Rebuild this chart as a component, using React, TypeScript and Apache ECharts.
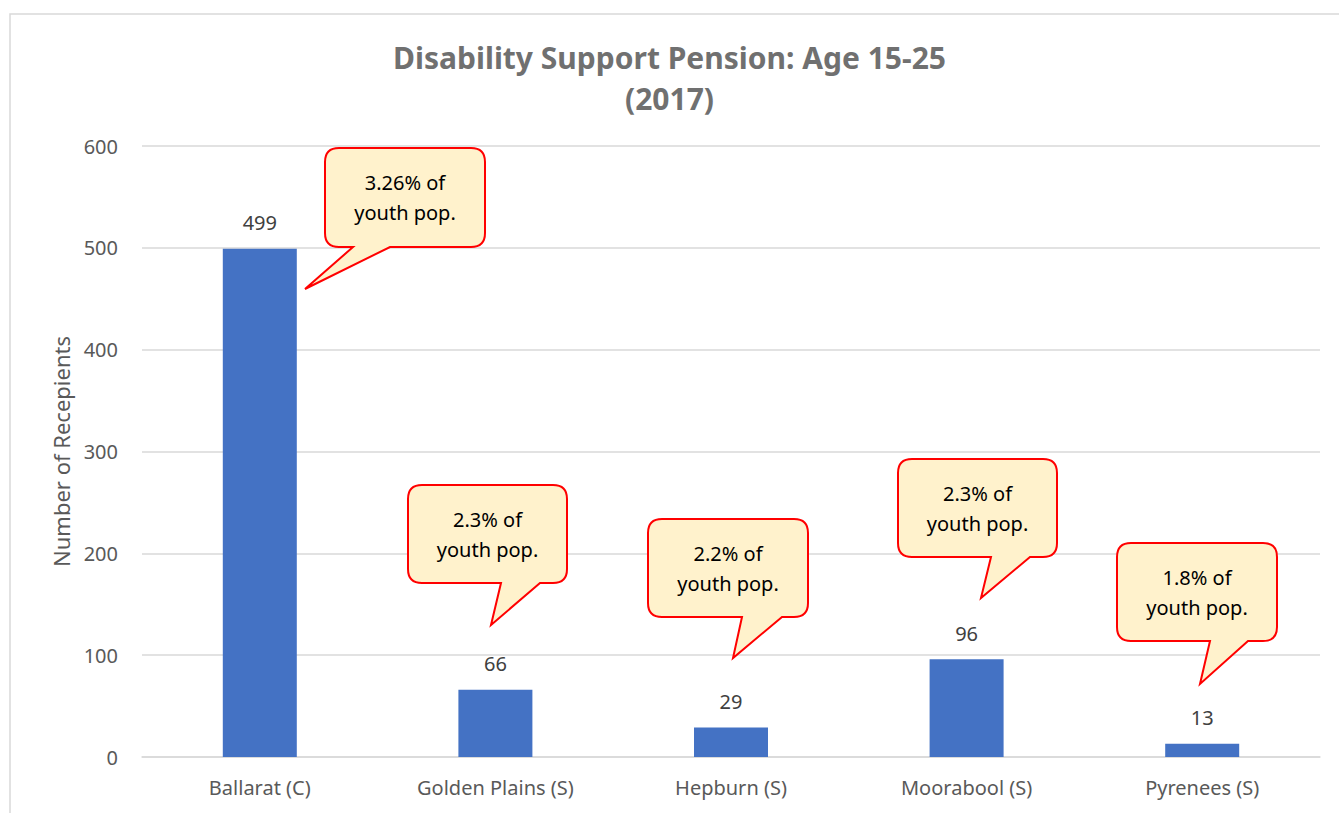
import React, { useEffect, useRef } from "react";
import * as echarts from "echarts";

const categories = ["Ballarat (C)", "Golden Plains (S)", "Hepburn (S)", "Moorabool (S)", "Pyrenees (S)"];
const recipients = [499, 66, 29, 96, 13];
const yTicks = [0, 100, 200, 300, 400, 500, 600];
const calloutTexts = ["3.26% of\nyouth pop.", "2.3% of\nyouth pop.", "2.2% of\nyouth pop.", "2.3% of\nyouth pop.", "1.8% of\nyouth pop."];

// layout of the callout shapes (annotation geometry, pixels)
const calloutLayout = [
  { x0: 325, y0: 148, x1: 485, y1: 247, xa: 353, xb: 390, tx: 305, ty: 289 },
  { x0: 408, y0: 485, x1: 567, y1: 583, xa: 501, xb: 540, tx: 491, ty: 625 },
  { x0: 648, y0: 519, x1: 808, y1: 617, xa: 742, xb: 782, tx: 733, ty: 658 },
  { x0: 898, y0: 459, x1: 1057, y1: 557, xa: 991, xb: 1030, tx: 981, ty: 598 },
  { x0: 1117, y0: 543, x1: 1277, y1: 641, xa: 1210, xb: 1248, tx: 1200, ty: 684 },
];

const FONT = "Noto Sans";

function calloutPath(c: any) {
  const r = 14;
  const { x0, y0, x1, y1, xa, xb, tx, ty } = c;
  return (
    `M ${x0 + r} ${y0} L ${x1 - r} ${y0} Q ${x1} ${y0} ${x1} ${y0 + r} ` +
    `L ${x1} ${y1 - r} Q ${x1} ${y1} ${x1 - r} ${y1} L ${xb} ${y1} L ${tx} ${ty} L ${xa} ${y1} ` +
    `L ${x0 + r} ${y1} Q ${x0} ${y1} ${x0} ${y1 - r} L ${x0} ${y0 + r} Q ${x0} ${y0} ${x0 + r} ${y0} Z`
  );
}

let registered = false;
function registerCallouts() {
  if (registered) return;
  registered = true;
  calloutLayout.forEach((c, i) => {
    echarts.graphic.registerShape("callout" + i, echarts.graphic.extendPath(calloutPath(c), {}) as any);
  });
}

export default function App() {
  const ref = useRef<HTMLDivElement>(null);
  useEffect(() => {
    if (!ref.current) return;
    registerCallouts();
    const chart = echarts.init(ref.current, undefined, { renderer: "svg" });
    const graphics: any[] = [
      {
        type: "rect",
        shape: { x: 10, y: 14, width: 1400, height: 900 },
        style: { fill: "none", stroke: "#d9d9d9", lineWidth: 1.5 },
        silent: true,
      },
    ];
    calloutLayout.forEach((c, i) => {
      graphics.push({
        type: "callout" + i,
        x: 0,
        y: 0,
        z: 10,
        style: { fill: "#FFF2CC", stroke: "#FF0000", lineWidth: 2 },
      });
      graphics.push({
        type: "text",
        x: (c.x0 + c.x1) / 2,
        y: (c.y0 + c.y1) / 2,
        z: 11,
        style: {
          text: calloutTexts[i],
          fontFamily: FONT,
          fontSize: 20,
          lineHeight: 30,
          fill: "#000000",
          align: "center",
          verticalAlign: "middle",
        },
      });
    });
    chart.setOption({
      animation: false,
      backgroundColor: "#ffffff",
      title: {
        text: "Disability Support Pension: Age 15-25\n(2017)",
        left: "center",
        top: 32,
        textStyle: {
          fontFamily: FONT,
          fontSize: 30,
          fontWeight: "bold",
          color: "#707070",
          lineHeight: 41,
        },
      },
      grid: { left: 142, right: 19, top: 146, bottom: 56, containLabel: false },
      xAxis: {
        type: "category",
        data: categories,
        axisLine: { lineStyle: { color: "#d9d9d9", width: 1.5 } },
        axisTick: { show: false },
        axisLabel: { color: "#595959", fontFamily: FONT, fontSize: 20, margin: 20 },
      },
      yAxis: {
        type: "value",
        min: yTicks[0],
        max: yTicks[yTicks.length - 1],
        interval: yTicks[1] - yTicks[0],
        name: "Number of Recepients",
        nameLocation: "middle",
        nameGap: 70,
        nameTextStyle: { color: "#595959", fontFamily: FONT, fontSize: 22 },
        axisLine: { show: false },
        axisTick: { show: false },
        axisLabel: { color: "#595959", fontFamily: FONT, fontSize: 20, margin: 24 },
        splitLine: { lineStyle: { color: "#d9d9d9", width: 1.5 } },
      },
      series: [
        {
          type: "bar",
          data: recipients,
          barWidth: 74,
          itemStyle: { color: "#4472C4" },
          label: {
            show: true,
            position: "top",
            distance: 16,
            color: "#404040",
            fontFamily: FONT,
            fontSize: 20,
          },
        },
      ],
      graphic: graphics,
    });
    return () => chart.dispose();
  }, []);
  return (
    <div
      ref={ref}
      style={{ position: "fixed", left: 0, top: 0, width: 1339, height: 813, background: "#fff" }}
    />
  );
}
